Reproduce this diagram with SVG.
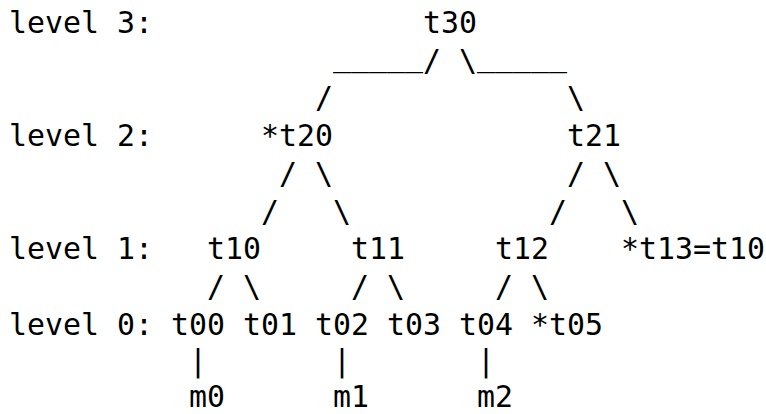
<svg xmlns="http://www.w3.org/2000/svg" width="766" height="414" viewBox="0 0 766 414">
<style>
text{font-family:"DejaVu Sans Mono","Liberation Mono",monospace;font-size:29.9px;fill:#000;white-space:pre}
</style>
<rect width="766" height="414" fill="#fff"/>
<g id="labels">
<text x="9" y="33">level 3:</text>
<text x="9" y="146.1">level 2:</text>
<text x="9" y="259.2">level 1:</text>
<text x="9" y="334.6">level 0:</text>
</g>
<g id="connectors">
<text x="333" y="66">_____</text>
<text x="423" y="70.7">/</text>
<text x="459" y="70.7">\</text>
<text x="477" y="66">_____</text>
<text x="315" y="108.4">/</text>
<text x="567" y="108.4">\</text>
<text x="279" y="183.8">/</text>
<text x="315" y="183.8">\</text>
<text x="567" y="183.8">/</text>
<text x="603" y="183.8">\</text>
<text x="261" y="221.5">/</text>
<text x="333" y="221.5">\</text>
<text x="549" y="221.5">/</text>
<text x="621" y="221.5">\</text>
<text x="207" y="296.9">/</text>
<text x="243" y="296.9">\</text>
<text x="351" y="296.9">/</text>
<text x="387" y="296.9">\</text>
<text x="495" y="296.9">/</text>
<text x="531" y="296.9">\</text>
<text x="189" y="371">|</text>
<text x="333" y="371">|</text>
<text x="477" y="371">|</text>
</g>
<g id="t30"><text x="423" y="33">t30</text></g>
<g id="t20"><text x="261" y="146.1">*t20</text></g>
<g id="t21"><text x="567" y="146.1">t21</text></g>
<g id="t10"><text x="207" y="259.2">t10</text></g>
<g id="t11"><text x="351" y="259.2">t11</text></g>
<g id="t12"><text x="495" y="259.2">t12</text></g>
<g id="t13"><text x="621" y="259.2">*t13=t10</text></g>
<g id="t00"><text x="171" y="334.6">t00</text></g>
<g id="t01"><text x="243" y="334.6">t01</text></g>
<g id="t02"><text x="315" y="334.6">t02</text></g>
<g id="t03"><text x="387" y="334.6">t03</text></g>
<g id="t04"><text x="459" y="334.6">t04</text></g>
<g id="t05"><text x="531" y="334.6">*t05</text></g>
<g id="m0"><text x="189" y="406.5">m0</text></g>
<g id="m1"><text x="333" y="406.5">m1</text></g>
<g id="m2"><text x="477" y="406.5">m2</text></g>
</svg>
